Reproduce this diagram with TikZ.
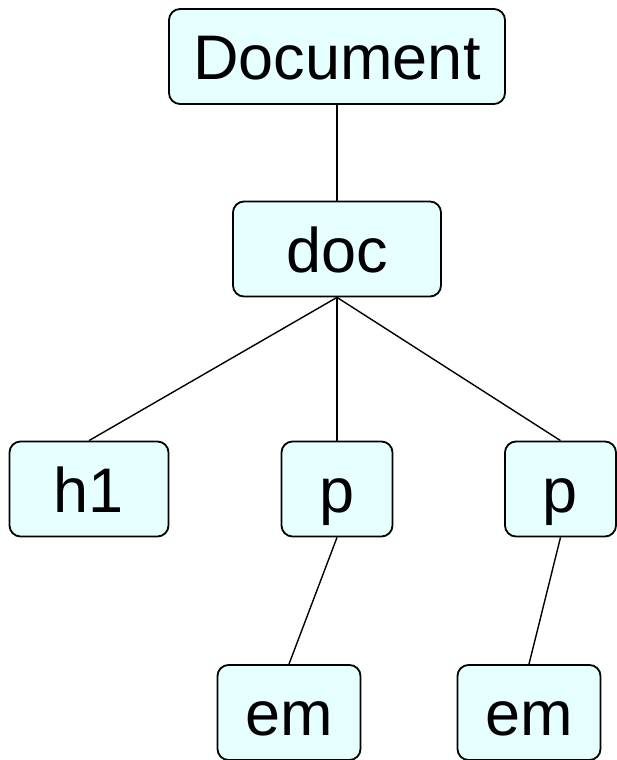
\documentclass[tikz,border=0pt]{standalone}
\usepackage{fontspec}
\setmainfont{Liberation Sans}
\definecolor{boxfill}{HTML}{E6FFFF}
\begin{document}
\begin{tikzpicture}[x=1pt,y=-1pt,
  treebox/.style={draw=black, line width=1.8pt, fill=boxfill, rounded corners=11pt,
    inner sep=0pt, minimum height=95pt, text height=46pt, text depth=0pt,
    font=\fontsize{63}{70}\selectfont},
  link/.style={draw=black, line width=1.4pt}]
\useasboundingbox (0,0) rectangle (617,760);
\node[treebox, minimum width=336pt] (Doc) at (337,56.5) {Document};
\node[treebox, minimum width=208pt] (doc) at (337,249) {doc};
\node[treebox, minimum width=159pt] (h1) at (89,489) {h1};
\node[treebox, minimum width=111pt] (p1) at (337,489) {p};
\node[treebox, minimum width=111pt] (p2) at (560.5,489) {p};
\node[treebox, minimum width=143pt] (em1) at (289,712.5) {em};
\node[treebox, minimum width=143pt] (em2) at (529,712.5) {em};
\draw[link] (Doc.south) -- (doc.north);
\draw[link] (doc.south) -- (h1.north);
\draw[link] (doc.south) -- (p1.north);
\draw[link] (doc.south) -- (p2.north);
\draw[link] (p1.south) -- (em1.north);
\draw[link] (p2.south) -- (em2.north);
\end{tikzpicture}
\end{document}
